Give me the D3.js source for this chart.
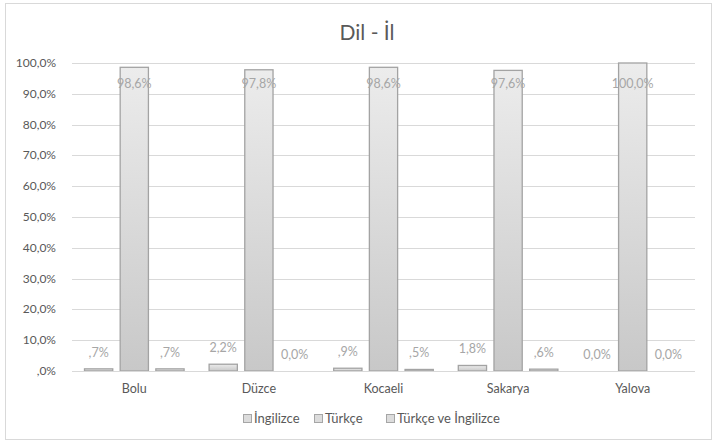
<!DOCTYPE html>
<html>
<head>
  <meta charset="utf-8">
  <script src="https://d3js.org/d3.v7.min.js"></script>
  <style>
    body { margin: 0; background: #fff; }
    text { font-family: Lato, "Open Sans", sans-serif; }
  </style>
</head>
<body>
  <div id="chart"></div>
  <script>
    const width = 717;
    const height = 443;

    const cities = ["Bolu", "Düzce", "Kocaeli", "Sakarya", "Yalova"];
    const seriesNames = ["İngilizce", "Türkçe", "Türkçe ve İngilizce"];
    const ingilizce = [0.7, 2.2, 0.9, 1.8, 0.0];
    const turkce = [98.6, 97.8, 98.6, 97.6, 100.0];
    const ikisi = [0.7, 0.0, 0.5, 0.6, 0.0];
    const tickValues = [0, 10, 20, 30, 40, 50, 60, 70, 80, 90, 100];
    const tickLabels = [",0%", "10,0%", "20,0%", "30,0%", "40,0%", "50,0%", "60,0%", "70,0%", "80,0%", "90,0%", "100,0%"];

    const series = [ingilizce, turkce, ikisi];
    const margin = { top: 63, right: 22, bottom: 72, left: 72 };

    const svg = d3.select("#chart").append("svg")
      .attr("width", width)
      .attr("height", height);

    const defs = svg.append("defs");
    const grad = defs.append("linearGradient")
      .attr("id", "barGrad")
      .attr("x1", 0).attr("y1", 0).attr("x2", 0).attr("y2", 1);
    grad.append("stop").attr("offset", "0%").attr("stop-color", "#ececec");
    grad.append("stop").attr("offset", "100%").attr("stop-color", "#c8c8c8");

    // chart border
    svg.append("rect")
      .attr("x", 5.5).attr("y", 3.5)
      .attr("width", width - 11).attr("height", height - 7)
      .attr("fill", "#fff")
      .attr("stroke", "#d9d9d9");

    svg.append("text")
      .attr("x", 367).attr("y", 40)
      .attr("text-anchor", "middle")
      .attr("font-size", 21)
      .attr("fill", "#595959")
      .text("Dil - İl");

    const x0 = d3.scaleBand()
      .domain(cities)
      .range([margin.left, width - margin.right])
      .paddingInner(0)
      .paddingOuter(0);

    const x1 = d3.scaleBand()
      .domain(d3.range(series.length))
      .range([12, x0.bandwidth() - 12])
      .paddingInner(0.18);

    const y = d3.scaleLinear()
      .domain([0, 100])
      .range([height - margin.bottom, margin.top]);

    // gridlines
    svg.append("g")
      .selectAll("line")
      .data(tickValues)
      .enter().append("line")
      .attr("x1", margin.left)
      .attr("x2", width - margin.right)
      .attr("y1", d => Math.round(y(d)) + 0.5)
      .attr("y2", d => Math.round(y(d)) + 0.5)
      .attr("stroke", "#d9d9d9");

    // y tick labels
    svg.append("g")
      .selectAll("text")
      .data(tickValues)
      .enter().append("text")
      .attr("x", margin.left - 16)
      .attr("y", d => y(d) + 4)
      .attr("text-anchor", "end")
      .attr("font-size", 12)
      .attr("fill", "#595959")
      .text((d, i) => tickLabels[i]);

    function fmt(v) {
      let s = v.toFixed(1).replace(".", ",");
      if (v > 0 && v < 1) s = s.slice(1);
      return s + "%";
    }

    const groups = svg.append("g")
      .selectAll("g")
      .data(cities)
      .enter().append("g")
      .attr("transform", d => "translate(" + x0(d) + ",0)");

    groups.selectAll("rect")
      .data((c, ci) => series.map((s, si) => ({ si: si, v: s[ci] })))
      .enter().append("rect")
      .filter(d => d.v > 0)
      .attr("x", d => x1(d.si) + 0.5)
      .attr("width", x1.bandwidth() - 1)
      .attr("y", d => y(d.v))
      .attr("height", d => y(0) - y(d.v))
      .attr("fill", "url(#barGrad)")
      .attr("stroke", "#a3a3a3")
      .attr("stroke-width", 1.3);

    groups.selectAll("text")
      .data((c, ci) => series.map((s, si) => ({ si: si, v: s[ci] })))
      .enter().append("text")
      .attr("x", d => x1(d.si) + x1.bandwidth() / 2)
      .attr("y", d => Math.max(y(d.v) - 12, 88))
      .attr("text-anchor", "middle")
      .attr("font-size", 12.5)
      .attr("fill", "#a6a6a6")
      .text(d => fmt(d.v));

    // x axis line
    svg.append("line")
      .attr("x1", margin.left).attr("x2", width - margin.right)
      .attr("y1", Math.round(y(0)) + 0.5).attr("y2", Math.round(y(0)) + 0.5)
      .attr("stroke", "#d9d9d9");

    svg.append("g")
      .selectAll("text")
      .data(cities)
      .enter().append("text")
      .attr("x", d => x0(d) + x0.bandwidth() / 2)
      .attr("y", 393)
      .attr("text-anchor", "middle")
      .attr("font-size", 12.5)
      .attr("fill", "#595959")
      .text(d => d);

    // legend
    const legendX = [243, 314, 386];
    const legend = svg.append("g")
      .selectAll("g")
      .data(seriesNames)
      .enter().append("g")
      .attr("transform", (d, i) => "translate(" + legendX[i] + ",419)");
    legend.append("rect")
      .attr("x", 0.5).attr("y", -4.5)
      .attr("width", 8).attr("height", 8)
      .attr("fill", "#dcdcdc")
      .attr("stroke", "#a6a6a6");
    legend.append("text")
      .attr("x", 11).attr("y", 4)
      .attr("font-size", 13)
      .attr("fill", "#595959")
      .text(d => d);
  </script>
</body>
</html>
